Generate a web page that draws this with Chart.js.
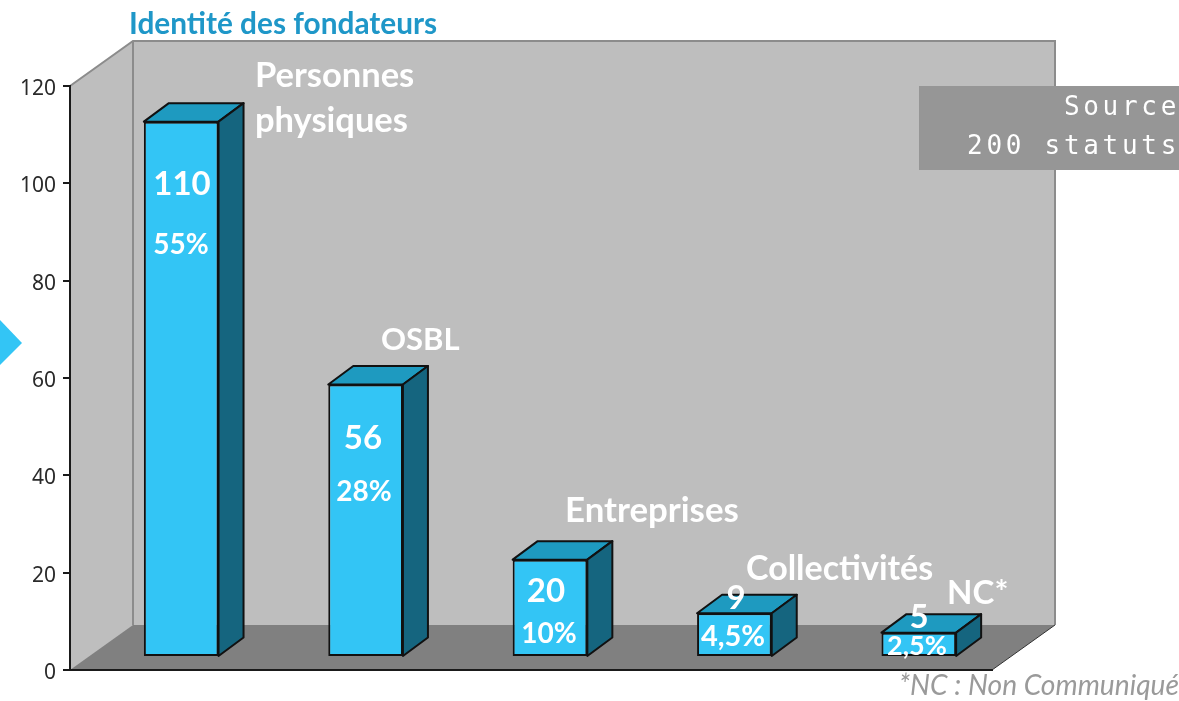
<!DOCTYPE html>
<html lang="fr">
<head>
<meta charset="utf-8">
<title>Identité des fondateurs</title>
<style>
html,body{margin:0;padding:0;background:#fff;overflow:hidden}
#wrap{position:relative;width:1179px;height:701px}
</style>
<script src="https://cdn.jsdelivr.net/npm/chart.js@4/dist/chart.umd.min.js"></script>
</head>
<body>
<div id="wrap"><canvas id="c" width="1179" height="701"></canvas></div>
<script>
// ---- data ----
const categories = ["Personnes physiques", "OSBL", "Entreprises", "Collectivités", "NC*"];
const founders = [110, 56, 20, 9, 5];
const shares = ["55%", "28%", "10%", "4,5%", "2,5%"];
const yTicks = [0, 20, 40, 60, 80, 100, 120];
const titleText = "Identité des fondateurs";
const sourceLines = ["Source", "200 statuts"];
const footnote = "*NC : Non Communiqué";

// ---- 3D layout (pixels) ----
const wall = {dx: 63, dy: -45};
const barShift = {x: 19, y: -13};
const depth = {x: 25, y: -18.5};

// ---- text placement (pixels) ----
const FONT = "Lato, Carlito, sans-serif";
const categoryLabels = [
  {lines: ["Personnes", "physiques"], x: 255, y: [87, 132], size: 34.5},
  {lines: ["OSBL"], x: 381, y: [350], size: 31},
  {lines: ["Entreprises"], x: 565, y: [522], size: 34.8},
  {lines: ["Collectivités"], x: 746, y: [580], size: 34},
  {lines: ["NC*"], x: 947, y: [604], size: 33}
];
const valuePlace = [[182, 195, 33], [363, 449, 33], [546, 602, 33], [736, 609, 33], [919, 628, 33]];
const sharePlace = [[181, 254, 28], [364, 501, 28], [549, 643, 28], [733, 646, 29], [917, 655, 27]];

const threeD = {
  id: "threeD",
  afterUpdate(chart) {
    chart.scales.y.getLabelItems(chart.chartArea).forEach(it => { it.options.translation[1] += 3; });
  },
  beforeDraw(chart) {
    const {ctx, chartArea: a} = chart;
    const d = wall;
    ctx.save();
    ctx.fillStyle = "#bebebe";
    ctx.beginPath();
    ctx.moveTo(a.left, a.top); ctx.lineTo(a.left + d.dx, a.top + d.dy);
    ctx.lineTo(a.right + d.dx, a.top + d.dy); ctx.lineTo(a.right + d.dx, a.bottom + d.dy);
    ctx.lineTo(a.left, a.bottom); ctx.closePath(); ctx.fill();
    ctx.fillStyle = "#808080";
    ctx.beginPath();
    ctx.moveTo(a.left, a.bottom); ctx.lineTo(a.left + d.dx, a.bottom + d.dy);
    ctx.lineTo(a.right + d.dx, a.bottom + d.dy); ctx.lineTo(a.right, a.bottom);
    ctx.closePath(); ctx.fill();
    ctx.strokeStyle = "#8c8c8c"; ctx.lineWidth = 2;
    ctx.beginPath();
    ctx.moveTo(a.left, a.top); ctx.lineTo(a.left + d.dx, a.top + d.dy);
    ctx.lineTo(a.right + d.dx, a.top + d.dy); ctx.lineTo(a.right + d.dx, a.bottom + d.dy);
    ctx.moveTo(a.left + d.dx, a.top + d.dy); ctx.lineTo(a.left + d.dx, a.bottom + d.dy);
    ctx.stroke();
    ctx.strokeStyle = "#333"; ctx.lineWidth = 1;
    ctx.beginPath();
    ctx.moveTo(a.right, a.bottom); ctx.lineTo(a.right + d.dx, a.bottom + d.dy);
    ctx.stroke();
    ctx.restore();
  },
  beforeDatasetsDraw(chart) {
    const {ctx} = chart;
    ctx.save();
    ctx.translate(barShift.x, barShift.y);
    ctx.lineWidth = 2;
    ctx.strokeStyle = "#111";
    ctx.lineJoin = "round";
    chart.getDatasetMeta(0).data.forEach(bar => {
      const x0 = bar.x - bar.width / 2, x1 = bar.x + bar.width / 2;
      ctx.fillStyle = "#1e9ac0";
      ctx.beginPath();
      ctx.moveTo(x0, bar.y); ctx.lineTo(x0 + depth.x, bar.y + depth.y);
      ctx.lineTo(x1 + depth.x, bar.y + depth.y); ctx.lineTo(x1, bar.y);
      ctx.closePath(); ctx.fill(); ctx.stroke();
      ctx.fillStyle = "#15657f";
      ctx.beginPath();
      ctx.moveTo(x1, bar.y); ctx.lineTo(x1 + depth.x, bar.y + depth.y);
      ctx.lineTo(x1 + depth.x, bar.base + depth.y); ctx.lineTo(x1, bar.base);
      ctx.closePath(); ctx.fill(); ctx.stroke();
    });
  },
  afterDatasetsDraw(chart) { chart.ctx.restore(); },
  afterDraw(chart) {
    const {ctx} = chart;
    ctx.save();
    // page arrow
    ctx.fillStyle = "#33c5f5";
    ctx.beginPath(); ctx.moveTo(0, 320); ctx.lineTo(22, 343); ctx.lineTo(0, 365); ctx.closePath(); ctx.fill();
    // title
    ctx.textBaseline = "alphabetic";
    ctx.textAlign = "left";
    ctx.fillStyle = "#1f97c8";
    ctx.font = "bold 29.8px " + FONT;
    ctx.fillText(titleText, 129, 34);
    // category labels
    ctx.fillStyle = "#fff";
    categoryLabels.forEach(l => {
      ctx.font = "bold " + l.size + "px " + FONT;
      l.lines.forEach((t, i) => ctx.fillText(t, l.x, l.y[i]));
    });
    // values and shares
    ctx.textAlign = "center";
    founders.forEach((v, i) => {
      const [x, y, s] = valuePlace[i];
      ctx.font = "bold " + s + "px " + FONT;
      ctx.fillText(String(v), x, y);
    });
    shares.forEach((t, i) => {
      const [x, y, s] = sharePlace[i];
      ctx.font = "bold " + s + "px " + FONT;
      ctx.fillText(t, x, y);
    });
    // source box
    ctx.fillStyle = "#969696";
    ctx.fillRect(919, 86, 260, 84);
    ctx.fillStyle = "#fff";
    ctx.textAlign = "right";
    ctx.font = "26px 'DejaVu Sans Mono', monospace";
    ctx.letterSpacing = "3.7px";
    ctx.fillText(sourceLines[0], 1180, 115);
    ctx.fillText(sourceLines[1], 1180, 154);
    ctx.letterSpacing = "0px";
    // footnote
    ctx.textAlign = "right";
    ctx.fillStyle = "#9a9a9a";
    ctx.font = "italic 28.2px " + FONT;
    ctx.fillText(footnote, 1179, 695);
    ctx.restore();
  }
};

new Chart(document.getElementById("c"), {
  type: "bar",
  data: {
    labels: categories,
    datasets: [{
      data: founders,
      backgroundColor: "#33c5f5",
      borderColor: "#111",
      borderWidth: 2,
      borderSkipped: false,
      categoryPercentage: 0.405,
      barPercentage: 1,
      clip: false
    }]
  },
  options: {
    responsive: false,
    animation: false,
    events: [],
    layout: {padding: {left: 0, right: 187, top: 86, bottom: 31}},
    plugins: {legend: {display: false}, tooltip: {enabled: false}, title: {display: false}},
    scales: {
      x: {
        grid: {display: false},
        ticks: {display: false},
        border: {color: "#1a1a1a", width: 2},
        afterFit(s) { s.height = 0; }
      },
      y: {
        min: 0, max: 120,
        afterBuildTicks(s) { s.ticks = yTicks.map(v => ({value: v})); },
        afterFit(s) { s.width = 70; },
        grid: {drawOnChartArea: false, color: "#1a1a1a", tickLength: 7, lineWidth: 2},
        border: {color: "#1a1a1a", width: 2},
        ticks: {color: "#2a2a2a", padding: 7, font: {family: "'Noto Sans'", size: 21}}
      }
    }
  },
  plugins: [threeD]
});
</script>
</body>
</html>
